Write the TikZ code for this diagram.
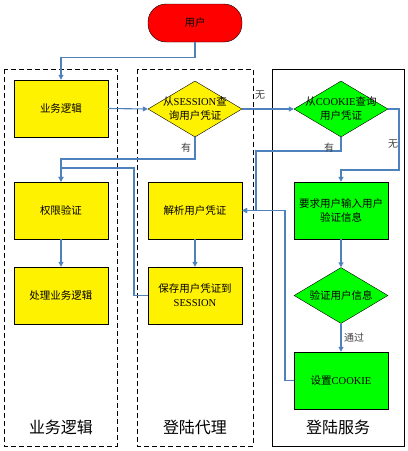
\documentclass[tikz,border=0pt]{standalone}
\usepackage{fontspec}
\setmainfont{Liberation Serif}
\newfontfamily\cjk{Noto Sans CJK SC}
\usetikzlibrary{shapes.geometric,arrows.meta}
\definecolor{flowline}{RGB}{79,129,189}
\begin{document}
\begin{tikzpicture}[x = 1pt, y = -1pt,
  box/.style = {draw = black, rectangle, minimum width = 94pt, minimum height = 57pt, inner sep = 1pt, align = center, font = \fontsize{10.5}{14}\selectfont},
  dec/.style = {draw = black, diamond, minimum width = 94pt, minimum height = 56pt, inner sep = 0pt},
  dectext/.style = {align = center, font = \fontsize{10.5}{14}\selectfont},
  flow/.style = {draw = flowline, line width = 1.1pt, -{Triangle[length = 5pt, width = 5pt]}},
  lane/.style = {draw = black, line width = 0.8pt},
  tag/.style = {font = \fontsize{10}{12}\selectfont\cjk, text = black!75},
  title/.style = {font = \fontsize{16}{18}\selectfont\cjk}]
\useasboundingbox (0,0) rectangle (408,451);
% lanes
\draw[lane, dash pattern = on 5pt off 3pt] (4,69) rectangle (117,446);
\draw[lane, dash pattern = on 5pt off 3pt] (137,69) rectangle (253,446);
\draw[lane] (272,69) rectangle (404,446);
\node[title] (lanelogic) at (61,427) {业务逻辑};
\node[title] (laneproxy) at (195,427) {登陆代理};
\node[title] (laneserver) at (338,427) {登陆服务};
% nodes
\node[box, fill = red, minimum height = 38pt, rounded corners = 18pt] (user) at (195,23) {\cjk 用户};
\node[box, fill = yellow] (logic) at (61,108.5) {\cjk 业务逻辑};
\node[dec, fill = yellow, label = {[dectext]center:{{\cjk 从}SESSION{\cjk 查}\\{\cjk 询用户凭证}}}] (session) at (195,109) {};
\node[dec, fill = green, label = {[dectext]center:{{\cjk 从}COOKIE{\cjk 查询}\\{\cjk 用户凭证}}}] (cookie) at (341,109) {};
\node[box, fill = yellow] (auth) at (61,210.5) {\cjk 权限验证};
\node[box, fill = yellow] (handle) at (61,295.5) {\cjk 处理业务逻辑};
\node[box, fill = yellow] (parse) at (195,210.5) {\cjk 解析用户凭证};
\node[box, fill = yellow] (save) at (195,295.5) {{\cjk 保存用户凭证到}\\SESSION};
\node[box, fill = green] (ask) at (341,210.5) {{\cjk 要求用户输入用户}\\{\cjk 验证信息}};
\node[dec, fill = green, label = {[dectext]center:{\cjk 验证用户信息}}] (verify) at (341,295.5) {};
\node[box, fill = green] (setck) at (341,380.5) {{\cjk 设置}COOKIE};
% connectors
\draw[flow] (user.south) -- ++(0,15) -| (logic.north);
\draw[flow] (logic.east) -- (session.west);
\draw[flow] (session.east) -- (cookie.west);
\draw[flow] (session.south) -- (195,159) -| (auth.north);
\draw[flow] (save.west) -| (134,168) -| (auth.north);
\draw[flow] (auth) -- (handle);
\draw[flow] (parse) -- (save);
\draw[flow] (cookie.south) -- (341,151) -| (256,210.5) -- (parse.east);
\draw[flow] (cookie.east) -- (399,109) |- (341,170) -- (ask.north);
\draw[flow] (ask) -- (verify);
\draw[flow] (verify) -- (setck);
\draw[flow] (setck.west) -| (285,210.5) -- (parse.east);
% labels
\node[tag] (nosession) at (260,95) {无};
\node[tag] (hassession) at (186,148) {有};
\node[tag] (hascookie) at (329,148) {有};
\node[tag] (nocookie) at (393,144) {无};
\node[tag] (passed) at (354,338) {通过};
\end{tikzpicture}
\end{document}
